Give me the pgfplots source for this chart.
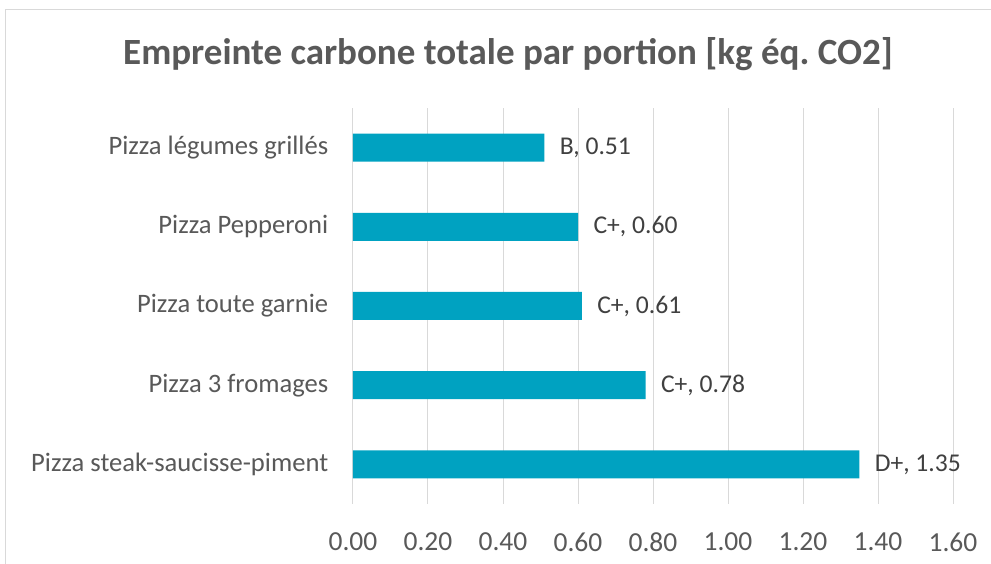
\documentclass[border=0pt]{standalone}
\usepackage{fontspec}
\setmainfont{Carlito}
\usepackage{pgfplots}
\usepackage{pgfplotstable}
\pgfplotsset{compat=1.18}
\definecolor{barc}{HTML}{00A2C1}
\definecolor{txt}{HTML}{595959}
\definecolor{lbl}{HTML}{404040}
\definecolor{gridc}{HTML}{D9D9D9}
\pgfplotstableread[col sep=semicolon]{
y;x;label
0;1.35;D+, 1.35
1;0.78;C+, 0.78
2;0.61;C+, 0.61
3;0.60;C+, 0.60
4;0.51;B, 0.51
}\data
\begin{document}
\begin{tikzpicture}[x=1pt,y=1pt]
\useasboundingbox (0,0) rectangle (991,564);
\fill[white] (0,0) rectangle (991,564);
\draw[gridc, line width=1pt] (5,-5) -- (5,554) -- (1000,554);
\node[font=\fontsize{37}{44}\selectfont\bfseries, text=txt] at (508,510) {Empreinte carbone totale par portion [kg éq.\ CO2]};
\begin{axis}[at={(353pt,60pt)}, anchor=south west, scale only axis,
  width=600pt, height=396pt,
  xmin=0, xmax=1.6, ymin=-0.5, ymax=4.5,
  xbar, bar width=28pt,
  xtick={0,0.2,0.4,0.6,0.8,1.0,1.2,1.4,1.6},
  ytick={0,1,2,3,4},
  yticklabels={Pizza steak-saucisse-piment, Pizza 3 fromages, Pizza toute garnie, Pizza Pepperoni, Pizza légumes grillés},
  xmajorgrids, major grid style={gridc, line width=1pt},
  axis line style={draw=none}, tick style={draw=none},
  /pgf/number format/assume math mode=true,
  xticklabel style={font=\fontsize{27.5}{33}\selectfont, text=txt, yshift=-25pt, /pgf/number format/.cd, fixed, fixed zerofill, precision=2},
  yticklabel style={font=\fontsize{26.6}{32}\selectfont, text=txt, xshift=-17pt},
  point meta=explicit symbolic,
  nodes near coords, nodes near coords align={horizontal},
  every node near coord/.append style={font=\fontsize{25.6}{31}\selectfont, text=lbl, anchor=west, xshift=12pt},
]
\addplot[fill=barc, draw=none] table[x=x, y=y, meta=label] {\data};
\end{axis}
\end{tikzpicture}
\end{document}
